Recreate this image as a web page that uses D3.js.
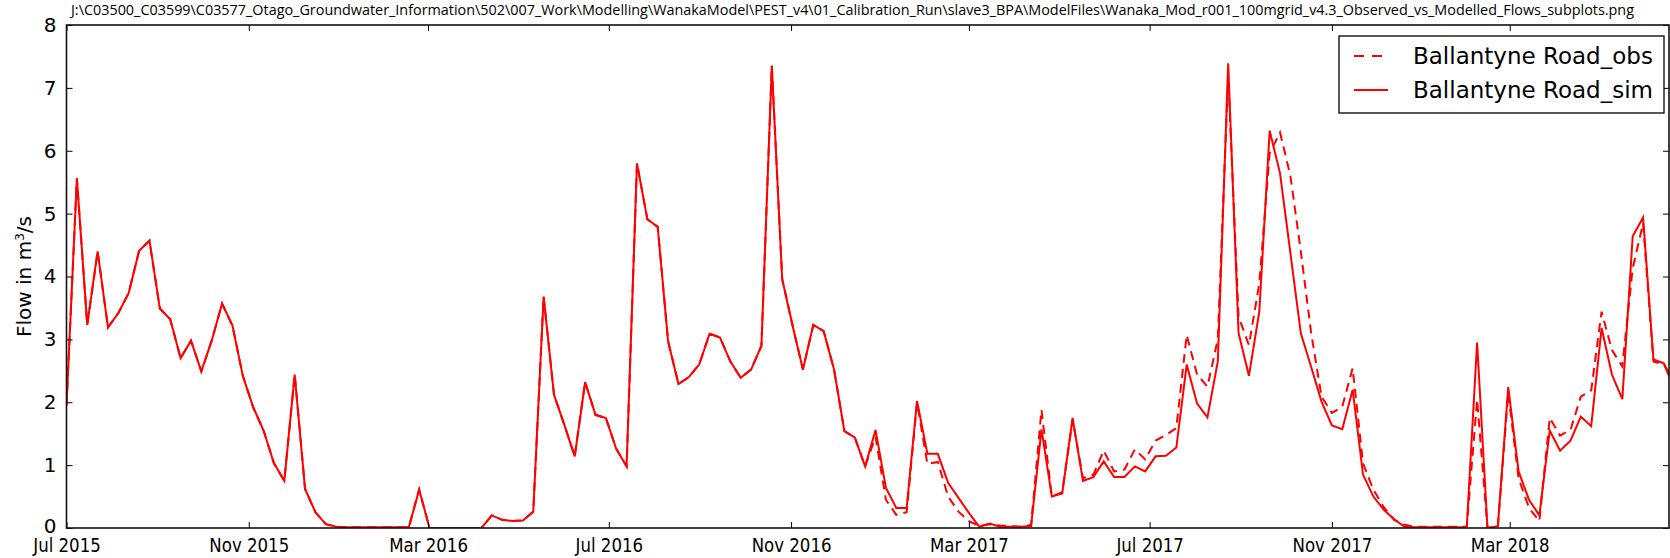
<!DOCTYPE html>
<html>
<head>
<meta charset="utf-8">
<script src="https://cdn.jsdelivr.net/npm/d3@7"></script>
<style>
  body { margin: 0; background: #fff; }
  svg { display: block; }
</style>
</head>
<body>
<svg id="chart"></svg>
<script>
// weekly samples starting 1 Jul 2015
const startDate = "2015-07-01";
const stepDays = 7;

const simValues = [
  1.95, 5.56, 3.23, 4.40, 3.19, 3.42, 3.74, 4.41, 4.57, 3.49,
  3.32, 2.70, 2.98, 2.49, 2.98, 3.57, 3.22, 2.42, 1.92, 1.55,
  1.03, 0.75, 2.44, 0.62, 0.25, 0.06, 0.02, 0.01, 0.01, 0.01,
  0.01, 0.01, 0.01, 0.01, 0.61, 0.00, 0.00, 0.00, 0.00, 0.00,
  0.00, 0.20, 0.13, 0.11, 0.12, 0.26, 3.68, 2.12, 1.64, 1.14,
  2.32, 1.80, 1.75, 1.26, 0.98, 5.80, 4.91, 4.79, 2.97, 2.29,
  2.40, 2.60, 3.09, 3.03, 2.65, 2.39, 2.52, 2.90, 7.35, 3.96,
  3.22, 2.52, 3.23, 3.13, 2.52, 1.54, 1.44, 0.98, 1.56, 0.64,
  0.32, 0.32, 2.02, 1.18, 1.18, 0.72, 0.48, 0.24, 0.02, 0.07,
  0.02, 0.02, 0.02, 0.03, 1.57, 0.50, 0.55, 1.75, 0.75, 0.81,
  1.06, 0.81, 0.81, 0.98, 0.90, 1.14, 1.15, 1.28, 2.60, 1.98,
  1.76, 2.65, 7.39, 3.10, 2.42, 3.44, 6.32, 5.64, 4.37, 3.10,
  2.56, 2.01, 1.63, 1.57, 2.20, 0.85, 0.50, 0.29, 0.14, 0.02,
  0.01, 0.01, 0.01, 0.01, 0.01, 0.01, 2.95, 0.00, 0.03, 2.24,
  0.90, 0.45, 0.20, 1.55, 1.23, 1.39, 1.77, 1.62, 3.18, 2.44,
  2.05, 4.64, 4.94, 2.68, 2.62, 2.22
];

const obsValues = [
  1.95, 5.56, 3.23, 4.40, 3.19, 3.42, 3.74, 4.41, 4.57, 3.49,
  3.32, 2.70, 2.98, 2.49, 2.98, 3.57, 3.22, 2.42, 1.92, 1.55,
  1.03, 0.75, 2.44, 0.62, 0.25, 0.06, 0.02, 0.01, 0.01, 0.01,
  0.01, 0.01, 0.01, 0.01, 0.61, 0.00, 0.00, 0.00, 0.00, 0.00,
  0.00, 0.20, 0.13, 0.11, 0.12, 0.26, 3.68, 2.12, 1.64, 1.14,
  2.32, 1.80, 1.75, 1.26, 0.98, 5.80, 4.91, 4.79, 2.97, 2.29,
  2.40, 2.60, 3.09, 3.03, 2.65, 2.39, 2.52, 2.90, 7.35, 3.96,
  3.22, 2.52, 3.23, 3.13, 2.52, 1.54, 1.44, 0.98, 1.45, 0.45,
  0.21, 0.25, 2.00, 1.02, 1.05, 0.50, 0.26, 0.11, 0.03, 0.06,
  0.04, 0.03, 0.02, 0.05, 1.88, 0.50, 0.57, 1.72, 0.79, 0.85,
  1.23, 0.90, 0.93, 1.25, 1.09, 1.39, 1.48, 1.59, 3.07, 2.44,
  2.25, 3.00, 7.20, 3.36, 2.91, 3.89, 5.96, 6.29, 5.60, 4.40,
  3.10, 2.09, 1.83, 1.93, 2.54, 1.03, 0.61, 0.33, 0.13, 0.05,
  0.02, 0.02, 0.02, 0.02, 0.02, 0.02, 2.04, 0.00, 0.03, 2.15,
  0.79, 0.32, 0.11, 1.75, 1.47, 1.56, 2.09, 2.19, 3.44, 2.83,
  2.57, 4.13, 4.85, 2.65, 2.60, 2.35
];

const xTickDates = ["2015-07-01", "2015-11-01", "2016-03-01", "2016-07-01", "2016-11-01",
  "2017-03-01", "2017-07-01", "2017-11-01", "2018-03-01"];
const yTicks = [0, 1, 2, 3, 4, 5, 6, 7, 8];
const seriesNames = ["Ballantyne Road_obs", "Ballantyne Road_sim"];
const titleText = "J:\\C03500_C03599\\C03577_Otago_Groundwater_Information\\502\\007_Work\\Modelling\\WanakaModel\\PEST_v4\\01_Calibration_Run\\slave3_BPA\\ModelFiles\\Wanaka_Mod_r001_100mgrid_v4.3_Observed_vs_Modelled_Flows_subplots.png";

const W = 1670, H = 558;
const plotLeft = 66.5, plotRight = 1669, plotTop = 25, plotBottom = 528;
const xEnd = "2018-06-16T12:00";

const parse = d3.isoParse;
const t0 = parse(startDate);
const dates = simValues.map((v, i) => d3.timeDay.offset(t0, i * stepDays));

const svg = d3.select("#chart").attr("width", W).attr("height", H);

const x = d3.scaleTime()
    .domain([t0, parse(xEnd)])
    .range([plotLeft, plotRight]);

const y = d3.scaleLinear()
    .domain([0, 8])
    .range([plotBottom, plotTop]);

// clip the lines to the plot area
svg.append("defs").append("clipPath").attr("id", "plotclip")
    .append("rect")
    .attr("x", plotLeft).attr("y", plotTop - 2)
    .attr("width", plotRight - plotLeft).attr("height", plotBottom - plotTop + 2);

const line = d3.line()
    .x((d, i) => x(dates[i]))
    .y(d => y(d));

const plot = svg.append("g").attr("clip-path", "url(#plotclip)");

plot.append("path")
    .datum(obsValues)
    .attr("fill", "none")
    .attr("stroke", "#ff0000")
    .attr("stroke-width", 2)
    .attr("stroke-dasharray", "9,6")
    .attr("d", line);

plot.append("path")
    .datum(simValues)
    .attr("fill", "none")
    .attr("stroke", "#ff0000")
    .attr("stroke-width", 2)
    .attr("d", line);

// axes
const tickDates = xTickDates.map(parse);
const fmt = d3.timeFormat("%b %Y");

const xAxis = svg.append("g")
    .attr("transform", `translate(0, ${plotBottom})`)
    .call(d3.axisBottom(x).tickValues(tickDates).tickFormat(fmt)
        .tickSizeInner(-6).tickSizeOuter(0).tickPadding(10));
xAxis.selectAll("text")
    .style("font-family", "DejaVu Sans")
    .style("font-size", "20px")
    .attr("fill", "#000")
    .attr("transform", "scale(0.83,1)");

svg.append("g")
    .attr("transform", `translate(0, ${plotTop})`)
    .call(d3.axisTop(x).tickValues(tickDates).tickFormat("")
        .tickSizeInner(-6).tickSizeOuter(0));

const yAxis = svg.append("g")
    .attr("transform", `translate(${plotLeft}, 0)`)
    .call(d3.axisLeft(y).tickValues(yTicks).tickFormat(d3.format("d"))
        .tickSizeInner(-6).tickSizeOuter(0).tickPadding(10));
yAxis.selectAll("text")
    .style("font-family", "DejaVu Sans")
    .style("font-size", "20px")
    .attr("fill", "#000");
// lift the bottom "0" a touch so it clears the first date label
yAxis.selectAll(".tick text").filter(d => d === 0).attr("dy", "0.2em");

svg.append("g")
    .attr("transform", `translate(${plotRight}, 0)`)
    .call(d3.axisRight(y).tickValues(yTicks).tickFormat("")
        .tickSizeInner(-6).tickSizeOuter(0));

svg.selectAll(".domain").remove();
svg.selectAll(".tick line").attr("stroke", "#000").attr("stroke-width", 1);

// frame
svg.append("rect")
    .attr("x", plotLeft).attr("y", plotTop)
    .attr("width", plotRight - plotLeft).attr("height", plotBottom - plotTop)
    .attr("fill", "none")
    .attr("stroke", "#111")
    .attr("stroke-width", 1.6);

// y label
const yLabel = svg.append("text")
    .attr("transform", `translate(31, ${(plotTop + plotBottom) / 2}) rotate(-90)`)
    .attr("text-anchor", "middle")
    .style("font-family", "DejaVu Sans")
    .style("font-size", "20px")
    .attr("fill", "#000");
yLabel.append("tspan").text("Flow in m");
yLabel.append("tspan").text("3").attr("baseline-shift", "super").style("font-size", "12px");
yLabel.append("tspan").text("/s");

// title
svg.append("text")
    .attr("x", 71).attr("y", 15)
    .attr("textLength", 1563)
    .attr("lengthAdjust", "spacingAndGlyphs")
    .style("font-family", "Open Sans")
    .style("font-size", "14px")
    .attr("fill", "#000")
    .text(titleText);

// legend
const legend = svg.append("g");
legend.append("rect")
    .attr("x", 1339).attr("y", 36)
    .attr("width", 325).attr("height", 77)
    .attr("fill", "#fff")
    .attr("stroke", "#000")
    .attr("stroke-width", 1.3);

seriesNames.forEach((name, i) => {
    const ly = 56 + i * 34;
    legend.append("line")
        .attr("x1", 1354).attr("x2", 1388)
        .attr("y1", ly).attr("y2", ly)
        .attr("stroke", "#ff0000")
        .attr("stroke-width", 2)
        .attr("stroke-dasharray", i === 0 ? "10,8" : null);
    legend.append("text")
        .attr("x", 1413).attr("y", ly + 8)
        .style("font-family", "DejaVu Sans")
        .style("font-size", "23px")
        .attr("fill", "#000")
        .text(name);
});
</script>
</body>
</html>
